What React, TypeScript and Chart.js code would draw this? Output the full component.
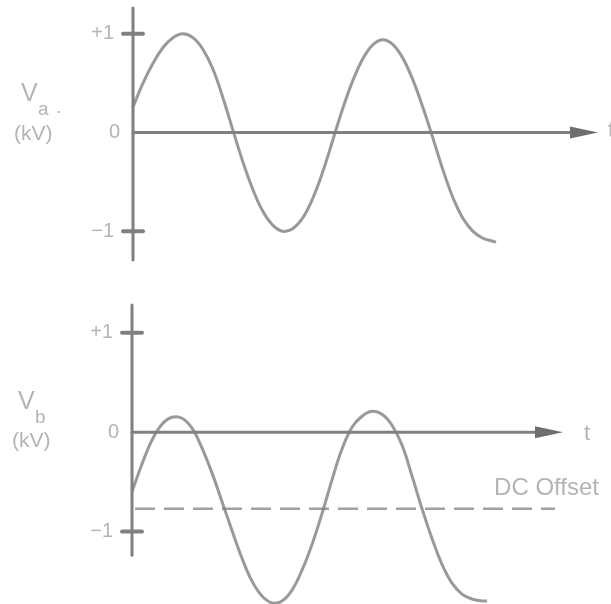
import React, { useEffect, useRef } from "react";
import { Chart, registerables } from "chart.js";

Chart.register(...registerables);

// ---- data ----
const timeA = [0, 0.1, 0.2, 0.3, 0.4, 0.5, 0.6, 0.7, 0.8, 0.9, 1.0, 1.1, 1.2, 1.3, 1.4, 1.5, 1.6, 1.7, 1.8, 1.9, 2.0, 2.1, 2.2, 2.3, 2.4, 2.5, 2.6, 2.7, 2.8, 2.9, 3.0, 3.1, 3.2, 3.3, 3.4, 3.5, 3.6, 3.63];
const voltageA = [0.26, 0.5, 0.7, 0.86, 0.96, 1.0, 0.96, 0.84, 0.64, 0.35, 0.02, -0.3, -0.58, -0.8, -0.94, -1.0, -0.97, -0.86, -0.66, -0.39, -0.07, 0.25, 0.53, 0.75, 0.89, 0.94, 0.89, 0.75, 0.53, 0.25, -0.06, -0.38, -0.66, -0.87, -1.0, -1.07, -1.1, -1.11];

const timeB = [0, 0.1, 0.2, 0.3, 0.4, 0.5, 0.6, 0.7, 0.8, 0.9, 1.0, 1.1, 1.2, 1.3, 1.4, 1.5, 1.6, 1.7, 1.8, 1.9, 2.0, 2.1, 2.2, 2.3, 2.4, 2.5, 2.6, 2.7, 2.8, 2.9, 3.0, 3.1, 3.2, 3.3, 3.4, 3.5, 3.55];
const voltageB = [-0.6, -0.32, -0.08, 0.08, 0.15, 0.14, 0.04, -0.16, -0.41, -0.7, -0.99, -1.27, -1.5, -1.65, -1.72, -1.7, -1.59, -1.39, -1.13, -0.82, -0.48, -0.17, 0.05, 0.16, 0.21, 0.18, 0.07, -0.13, -0.44, -0.77, -1.07, -1.33, -1.52, -1.63, -1.68, -1.7, -1.7];

const yTickValues = [1, 0, -1];
const yTickLabels = ["+1", "0", "\u22121"];
const dcOffsetValue = -0.77;
const dcOffsetLabel = "DC Offset";
const timeLabel = "t";
const unitLabel = "(kV)";

// ---- styles ----
const CURVE_COLOR = "rgba(128,128,128,0.8)";
const AXIS_COLOR = "#808080";
const ARROW_COLOR = "#6e6e6e";
const TEXT_COLOR = "#b4b4b4";
const FONT = "'Liberation Sans', Arial, sans-serif";

type PanelCfg = {
  height: number;
  times: number[];
  values: number[];
  padding: { left: number; right: number; top: number; bottom: number };
  xMax: number;
  yMin: number;
  yMax: number;
  yAxisTop: number;
  yAxisBottom: number;
  xAxisEnd: number;
  sub: string;
  vPos: { x: number; y: number };
  subPos: { x: number; y: number };
  dotPos?: { x: number; y: number };
  unitPos: { x: number; y: number };
  timePos: { x: number; y: number };
  dc?: { value: number; end: number; labelX: number; labelY: number };
};

function makePlugin(cfg: PanelCfg) {
  return {
    id: "sketchAxes",
    beforeDatasetsDraw(chart: any) {
      const ctx: CanvasRenderingContext2D = chart.ctx;
      const xs = chart.scales.x;
      const ys = chart.scales.y;
      const x0 = xs.getPixelForValue(0);
      const y0 = ys.getPixelForValue(0);
      ctx.save();
      ctx.lineCap = "round";
      ctx.strokeStyle = AXIS_COLOR;
      ctx.lineWidth = 3;
      // vertical axis
      ctx.beginPath();
      ctx.moveTo(x0, ys.getPixelForValue(cfg.yAxisTop));
      ctx.lineTo(x0, ys.getPixelForValue(cfg.yAxisBottom));
      ctx.stroke();
      // time axis
      const tip = xs.getPixelForValue(cfg.xAxisEnd);
      ctx.beginPath();
      ctx.moveTo(x0, y0);
      ctx.lineTo(tip - 20, y0);
      ctx.stroke();
      ctx.fillStyle = ARROW_COLOR;
      ctx.beginPath();
      ctx.moveTo(tip, y0);
      ctx.lineTo(tip - 28, y0 - 6);
      ctx.lineTo(tip - 28, y0 + 6);
      ctx.closePath();
      ctx.fill();
      // cross bars at +1 / -1
      ctx.lineWidth = 4;
      yTickValues.forEach((v) => {
        if (v === 0) return;
        const py = ys.getPixelForValue(v);
        ctx.beginPath();
        ctx.moveTo(x0 - 10, py);
        ctx.lineTo(x0 + 10, py);
        ctx.stroke();
      });
      // DC offset dashed line
      if (cfg.dc) {
        const py = ys.getPixelForValue(cfg.dc.value);
        ctx.lineWidth = 2.5;
        ctx.strokeStyle = "#a0a0a0";
        ctx.lineCap = "butt";
        ctx.setLineDash([20, 9]);
        ctx.beginPath();
        ctx.moveTo(x0 + 3, py);
        ctx.lineTo(xs.getPixelForValue(cfg.dc.end), py);
        ctx.stroke();
        ctx.setLineDash([]);
        ctx.fillStyle = TEXT_COLOR;
        ctx.font = `24px ${FONT}`;
        ctx.textAlign = "right";
        ctx.textBaseline = "alphabetic";
        ctx.fillText(dcOffsetLabel, cfg.dc.labelX, cfg.dc.labelY);
      }
      // tick labels
      ctx.fillStyle = TEXT_COLOR;
      ctx.font = `20px ${FONT}`;
      ctx.textAlign = "right";
      ctx.textBaseline = "middle";
      yTickValues.forEach((v, i) => {
        const py = ys.getPixelForValue(v);
        ctx.fillText(yTickLabels[i], x0 - (v === 0 ? 13 : 19), py);
      });
      // axis titles
      ctx.textAlign = "left";
      ctx.textBaseline = "alphabetic";
      ctx.font = `25px ${FONT}`;
      ctx.fillText("V", cfg.vPos.x, cfg.vPos.y);
      ctx.font = `19px ${FONT}`;
      ctx.fillText(cfg.sub, cfg.subPos.x, cfg.subPos.y);
      if (cfg.dotPos) ctx.fillText(".", cfg.dotPos.x, cfg.dotPos.y);
      ctx.font = `21px ${FONT}`;
      ctx.fillText(unitLabel, cfg.unitPos.x, cfg.unitPos.y);
      ctx.font = `22px ${FONT}`;
      ctx.fillText(timeLabel, cfg.timePos.x, cfg.timePos.y);
      ctx.restore();
    },
  };
}

function Panel({ cfg, top }: { cfg: PanelCfg; top: number }) {
  const ref = useRef<HTMLCanvasElement | null>(null);
  useEffect(() => {
    if (!ref.current) return;
    const chart = new Chart(ref.current, {
      type: "line",
      data: {
        datasets: [
          {
            data: cfg.times.map((t, i) => ({ x: t, y: cfg.values[i] })),
            borderColor: CURVE_COLOR,
            borderWidth: 3,
            pointRadius: 0,
            tension: 0.4,
            fill: false,
            clip: false as any,
          },
        ],
      },
      options: {
        responsive: false,
        animation: false,
        devicePixelRatio: 1,
        layout: { padding: cfg.padding },
        plugins: { legend: { display: false }, tooltip: { enabled: false }, title: { display: false } },
        scales: {
          x: { type: "linear", display: false, min: 0, max: cfg.xMax },
          y: { type: "linear", display: false, min: cfg.yMin, max: cfg.yMax },
        },
      },
      plugins: [makePlugin(cfg)],
    });
    return () => chart.destroy();
  }, [cfg]);
  return (
    <canvas
      ref={ref}
      width={611}
      height={cfg.height}
      style={{ position: "absolute", left: 0, top, width: 611, height: cfg.height }}
    />
  );
}

const panelA: PanelCfg = {
  height: 300,
  times: timeA,
  values: voltageA,
  padding: { left: 133, right: 11, top: 8, bottom: 38 },
  xMax: 4.67,
  yMin: -1.31,
  yMax: 1.26,
  yAxisTop: 1.26,
  yAxisBottom: -1.29,
  xAxisEnd: 4.65,
  sub: "a",
  vPos: { x: 21, y: 101 },
  subPos: { x: 38, y: 115 },
  dotPos: { x: 56, y: 113 },
  unitPos: { x: 14, y: 140 },
  timePos: { x: 608, y: 137 },
};

const panelB: PanelCfg = {
  height: 304,
  times: timeB,
  values: voltageB,
  padding: { left: 132, right: 11, top: 5, bottom: 0 },
  xMax: 4.68,
  yMin: -1.73,
  yMax: 1.28,
  yAxisTop: 1.28,
  yAxisBottom: -1.24,
  xAxisEnd: 4.31,
  sub: "b",
  vPos: { x: 18, y: 109 },
  subPos: { x: 35, y: 123 },
  unitPos: { x: 12, y: 147 },
  timePos: { x: 584, y: 140 },
  dc: { value: dcOffsetValue, end: 4.23, labelX: 599, labelY: 195 },
};

export default function App() {
  return (
    <div style={{ position: "absolute", left: 0, top: 0, width: 611, height: 604, background: "#fff", overflow: "hidden" }}>
      <Panel cfg={panelA} top={0} />
      <Panel cfg={panelB} top={300} />
    </div>
  );
}
